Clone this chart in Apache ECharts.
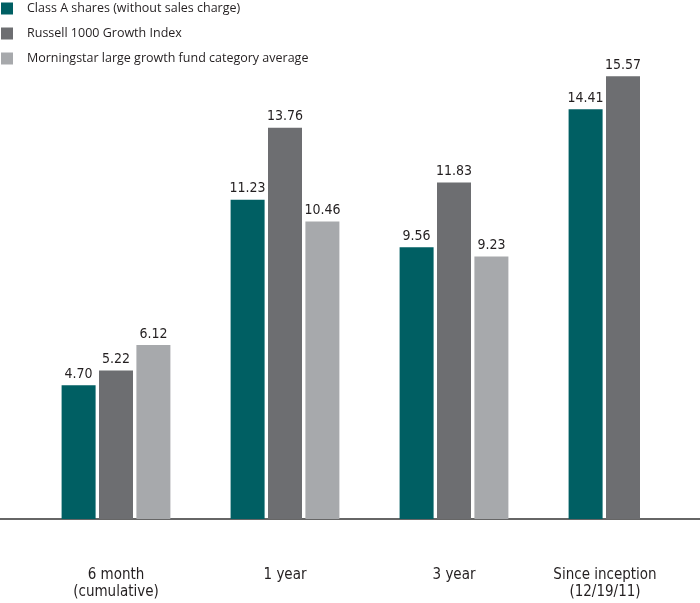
<!DOCTYPE html>
<html><head><meta charset="utf-8">
<script src="https://cdn.jsdelivr.net/npm/echarts@6/dist/echarts.min.js"></script>
<style>html,body{margin:0;padding:0;background:#fff}#c{width:700px;height:603px}</style>
</head><body><div id="c"></div>
<script>
var categories = ['6 month\n(cumulative)', '1 year', '3 year', 'Since inception\n(12/19/11)'];
var seriesNames = ['Class A shares (without sales charge)', 'Russell 1000 Growth Index', 'Morningstar large growth fund category average'];
var classA = [4.70, 11.23, 9.56, 14.41];
var russell = [5.22, 13.76, 11.83, 15.57];
var morningstar = [6.12, 10.46, 9.23, null];
var colors = ['#005F63', '#6D6E71', '#A7A9AC'];

var gridBottom = 84;
var chart = echarts.init(document.getElementById('c'));
var labelFont = '"Liberation Sans Narrow", "DejaVu Sans Condensed", "Roboto", sans-serif';
function mk(name, data, color) {
  return {
    name: name, type: 'bar', data: data, barWidth: 34, barGap: '10%',
    itemStyle: { color: color },
    label: { show: true, position: 'top', distance: 4, color: '#231F20', fontSize: 14, fontFamily: labelFont,
      formatter: function (p) { return p.value == null ? '' : p.value.toFixed(2); } }
  };
}
chart.setOption({
  animation: false,
  legend: {
    orient: 'vertical', left: 1, top: 2, padding: 0, itemWidth: 12, itemHeight: 12, itemGap: 12,
    icon: 'rect',
    textStyle: { fontSize: 12.5, color: '#231F20', fontFamily: '"Open Sans", "Noto Sans", sans-serif', padding: [0, 0, 0, 9] },
    data: seriesNames
  },
  grid: [
    { left: 31.5, right: -7.5, top: 64, bottom: gridBottom, outerBoundsMode: 'none', containLabel: false },
    { left: 0, right: 0, top: 64, bottom: gridBottom, outerBoundsMode: 'none', containLabel: false }
  ],
  xAxis: [{
    type: 'category', gridIndex: 0,
    data: categories.map(function (c, i) {
      return i === 3 ? { value: c, textStyle: { padding: [0, 36, 0, 0] } } : c;
    }),
    axisTick: { show: false },
    axisLine: { show: false },
    axisLabel: { margin: 48, fontSize: 15, lineHeight: 17, color: '#231F20', fontFamily: labelFont }
  }, {
    type: 'value', gridIndex: 1, min: 0, max: 1,
    axisLine: { show: true, lineStyle: { color: '#333', width: 1.5 } },
    axisTick: { show: false }, axisLabel: { show: false }, splitLine: { show: false }
  }],
  yAxis: [
    { type: 'value', gridIndex: 0, min: 0, max: 16, show: false, splitLine: { show: false } },
    { type: 'value', gridIndex: 1, min: 0, max: 1, show: false, splitLine: { show: false } }
  ],
  series: [mk(seriesNames[0], classA, colors[0]), mk(seriesNames[1], russell, colors[1]), mk(seriesNames[2], morningstar, colors[2])]
});
</script></body></html>
